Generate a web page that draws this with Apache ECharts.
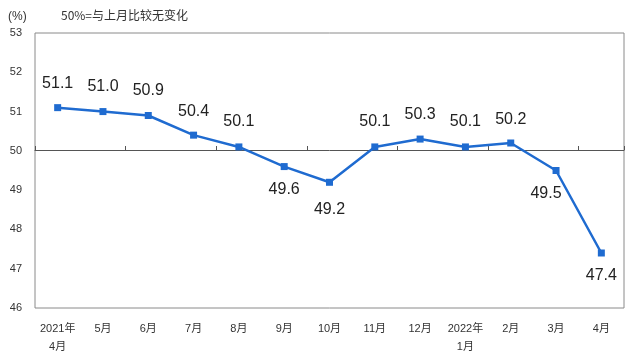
<!DOCTYPE html>
<html>
<head>
<meta charset="utf-8">
<script src="https://cdn.jsdelivr.net/npm/echarts@6/dist/echarts.min.js"></script>
<style>html,body{margin:0;padding:0;background:#fff}#c{width:640px;height:356px}</style>
</head>
<body>
<div id="c"></div>
<script>
var categories = ['2021年\n4月','5月','6月','7月','8月','9月','10月','11月','12月','2022年\n1月','2月','3月','4月'];
var values = [51.1, 51.0, 50.9, 50.4, 50.1, 49.6, 49.2, 50.1, 50.3, 50.1, 50.2, 49.5, 47.4];
var yTicks = [46, 53, 1];
var titleText = '50%=与上月比较无变化';
var unitText = '(%)';
// label placement (style only)
var labelPos = ['top','top','top','top','top','bottom','bottom','top','top','top','top','bottom','bottom'];
var labelOff = [[0,-8],[0,-8],[0,-8],[0,-7],[0,-9],[0,7],[0,11],[0,-9],[0,-8],[0,-9],[0,-7],[-10,7],[0,6]];

var font = "'Liberation Sans', 'Noto Sans CJK SC', sans-serif";
var chart = echarts.init(document.getElementById('c'));
var seriesData = values.map(function (v, i) {
  return { value: v, label: { position: labelPos[i], offset: labelOff[i] } };
});
chart.setOption({
  animation: false,
  backgroundColor: '#ffffff',
  title: [
    { text: unitText, left: 3, top: 6, textStyle: { fontSize: 12, fontWeight: 'normal', color: '#333', fontFamily: font } },
    { text: titleText, left: 56, top: 4, textStyle: { fontSize: 12, fontWeight: 'normal', color: '#333', fontFamily: "'Noto Sans CJK SC', sans-serif" } }
  ],
  grid: { left: 35, right: 16, top: 33, bottom: 48, show: true, borderColor: '#8a8a8a', borderWidth: 1 },
  xAxis: [
    {
      type: 'category', data: categories, position: 'bottom', boundaryGap: true,
      axisLine: { show: false }, axisTick: { show: false },
      axisLabel: { color: '#333', fontSize: 11, fontFamily: font, margin: 12, lineHeight: 18, interval: 0 }
    },
    {
      type: 'category', data: categories, position: 'bottom', offset: -158, boundaryGap: true,
      axisLine: { show: true, lineStyle: { color: '#555', width: 1 } },
      axisTick: { show: true, inside: true, length: 4, lineStyle: { color: '#555' } },
      axisLabel: { show: false }
    }
  ],
  yAxis: {
    type: 'value', min: yTicks[0], max: yTicks[1], interval: yTicks[2],
    axisLine: { show: false }, axisTick: { show: false }, splitLine: { show: false },
    axisLabel: { color: '#333', fontSize: 11, fontFamily: font, margin: 13 }
  },
  series: [{
    type: 'line', data: seriesData, xAxisIndex: 0,
    symbol: 'rect', symbolSize: 7,
    lineStyle: { color: '#1f6bd0', width: 2.5 },
    itemStyle: { color: '#1f6bd0' },
    label: {
      show: true, fontSize: 16, color: '#222', fontFamily: "'Liberation Sans', Arial, sans-serif",
      formatter: function (p) { return p.value.toFixed(1); }
    }
  }]
});
</script>
</body>
</html>
